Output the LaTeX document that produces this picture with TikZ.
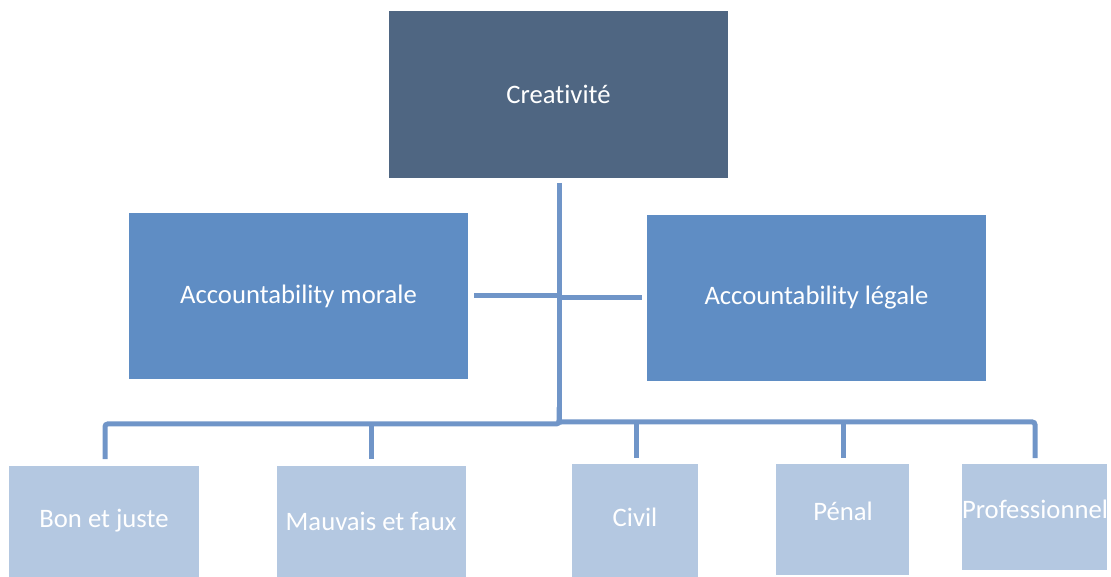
\documentclass[tikz,border=0pt]{standalone}
\usepackage{fontspec}
\setmainfont{Carlito}[Ligatures={NoCommon}]
\definecolor{cdark}{HTML}{4F6682}
\definecolor{cmid}{HTML}{5F8DC4}
\definecolor{clight}{HTML}{B4C8E1}
\definecolor{cline}{HTML}{7095C8}
\begin{document}
\begin{tikzpicture}[x=0.75pt,y=-0.75pt,
  box/.style={inner sep=0pt, outer sep=0pt, text=white, font=\fontsize{20}{24}\selectfont},
  darkbox/.style={box, fill=cdark},
  midbox/.style={box, fill=cmid},
  lightbox/.style={box, fill=clight},
  txt/.style={text=white, inner sep=0pt, font=\fontsize{20}{24}\selectfont},
  conn/.style={draw=cline, line width=3.75pt, rounded corners=2pt}]
\useasboundingbox (0,0) rectangle (1111,577);
% boxes
\node[darkbox, minimum width=254.25pt, minimum height=125.25pt] (creat) at (558.5,94.5) {Creativité};
\node[midbox, minimum width=254.25pt, minimum height=124.5pt] (morale) at (298.5,296) {Accountability morale};
\node[midbox, minimum width=254.25pt, minimum height=124.5pt] (legale) at (816.5,298) {Accountability légale};
\node[lightbox, minimum width=142.5pt, minimum height=87pt] (bon) at (104,524) {};
\node[txt] (bont) at (104,521) {Bon et juste};
\node[lightbox, minimum width=141.75pt, minimum height=87pt] (mauv) at (371.5,524) {};
\node[txt] (mauvt) at (371,521) {Mauvais et faux};
\node[lightbox, minimum width=94.5pt, minimum height=92pt] (civil) at (635,525) {};
\node[txt] (civilt) at (635,517) {Civil};
\node[lightbox, minimum width=99.75pt, minimum height=83.25pt] (penal) at (842.5,519.5) {};
\node[txt] (penalt) at (843,511) {Pénal};
\node[lightbox, minimum width=108.75pt, minimum height=79.5pt] (prof) at (1034.5,517) {};
\node[txt] (proft) at (1035,509) {Professionnel};
% junction points
\coordinate (ttop) at (559,183);
\coordinate (jl) at (559,296);
\coordinate (jr) at (559,298);
\coordinate (ml) at (474,296);
\coordinate (lr) at (642,298);
\coordinate (jb) at (559,423);
% connectors
\draw[conn] (ttop) -- (jb);
\draw[conn] (ml) -- (jl);
\draw[conn] (jr) -- (lr);
\draw[conn] (jb) |- (559,424) -| (105,459);
\draw[conn] (371,424) -- (371,459);
\draw[conn] (jb) |- (559,422) -| (1035,458);
\draw[conn] (636,422) -- (636,458);
\draw[conn] (843,422) -- (843,458);
\end{tikzpicture}
\end{document}
